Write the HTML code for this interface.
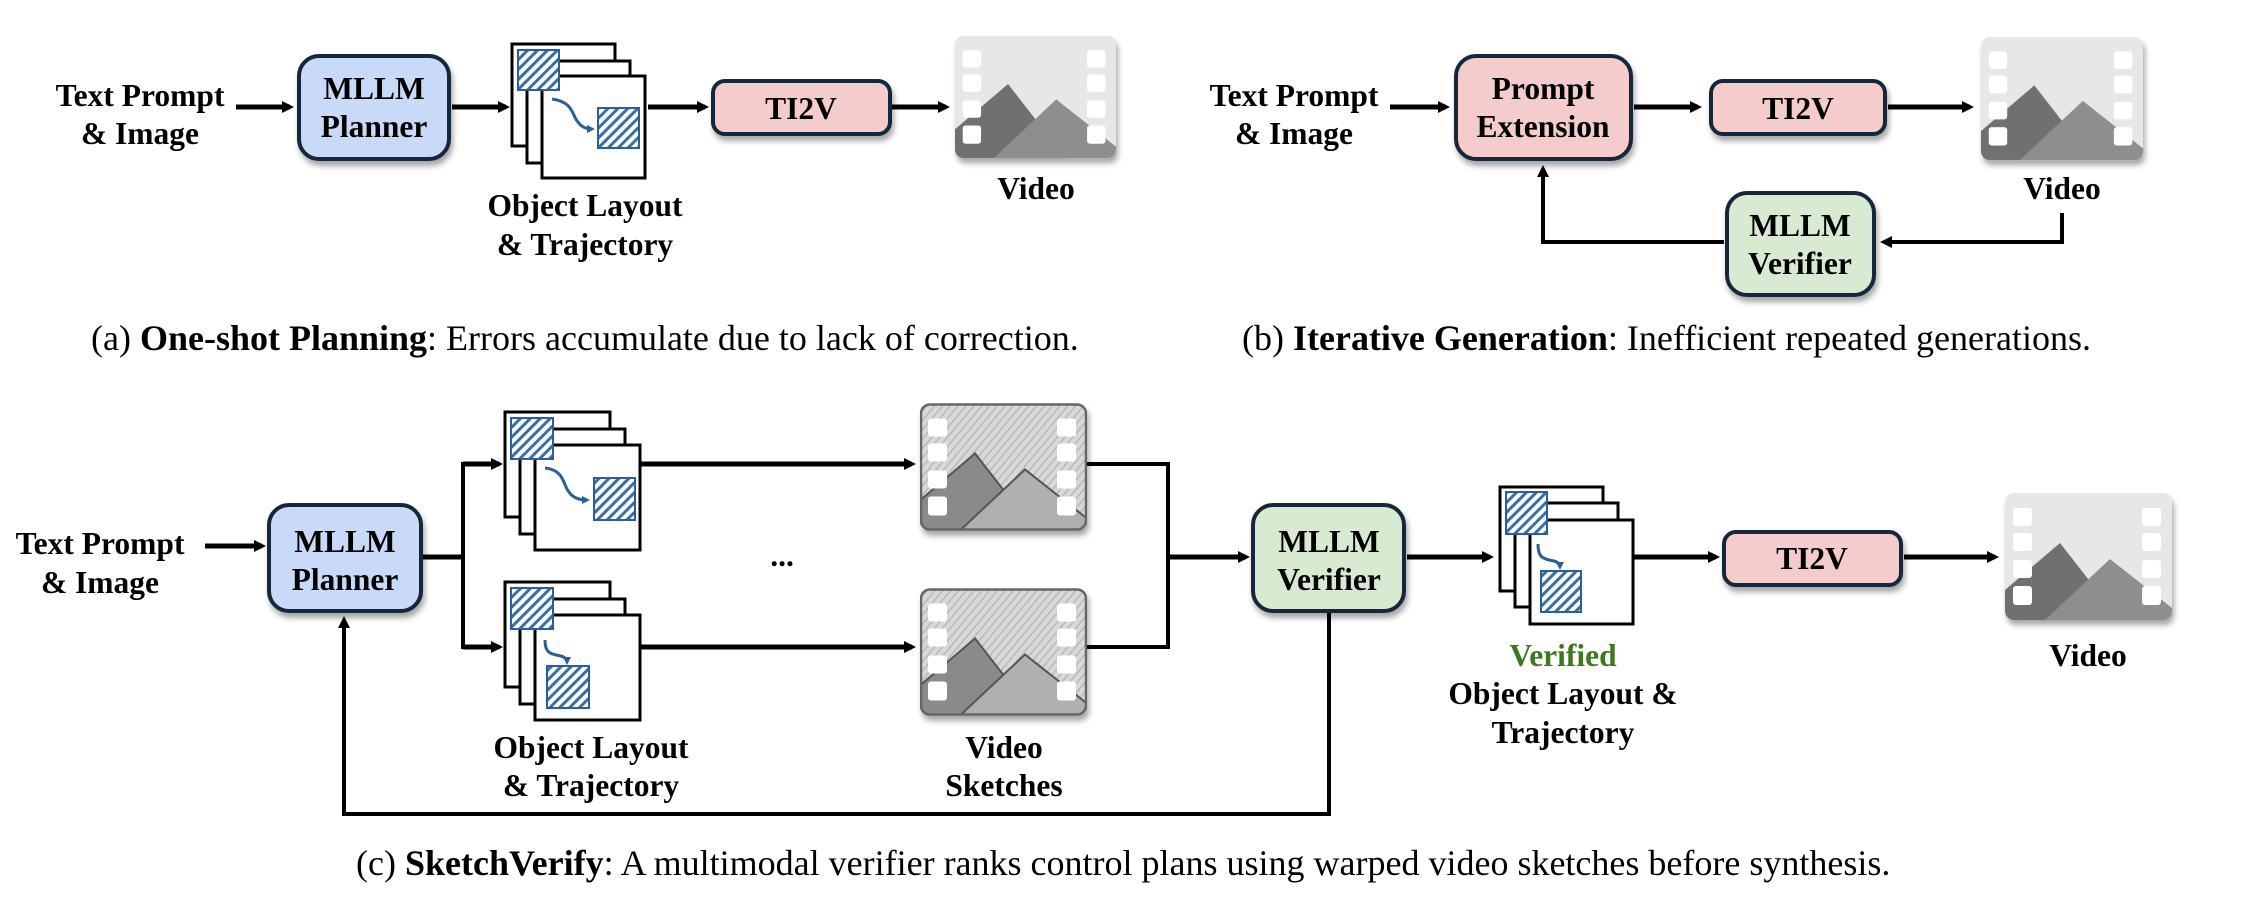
<!DOCTYPE html>
<html><head><meta charset="utf-8"><style>
html,body{margin:0;padding:0;background:#fff;}
svg{display:block;}
text{font-family:"Liberation Serif",serif;fill:#000;}
.lb{font-weight:bold;font-size:31.5px;text-anchor:middle;}
.cap{font-size:36px;}
</style></head><body>
<svg width="2241" height="898" viewBox="0 0 2241 898" xmlns="http://www.w3.org/2000/svg">
<defs>
<marker id="ah" markerWidth="12" markerHeight="12" refX="8" refY="6" orient="auto" markerUnits="userSpaceOnUse" viewBox="0 0 12 12"><path d="M0,0 L12,6 L0,12 z" fill="#000"/></marker>
<marker id="ab" markerWidth="8" markerHeight="8" refX="5" refY="4" orient="auto" markerUnits="userSpaceOnUse" viewBox="0 0 8 8"><path d="M0,0 L8,4 L0,8 z" fill="#2a5f9a"/></marker>
<pattern id="hatch" width="7" height="7" patternUnits="userSpaceOnUse" patternTransform="rotate(45)"><rect width="7" height="7" fill="#fff"/><rect width="3" height="7" fill="#3a6fa5"/></pattern>
<pattern id="sk" width="6" height="6" patternUnits="userSpaceOnUse" patternTransform="rotate(40)"><rect width="6" height="6" fill="#d8d8d8"/><rect width="1.5" height="6" fill="#b8b8b8"/></pattern>
<filter id="sh" x="-10%" y="-10%" width="130%" height="140%"><feDropShadow dx="2" dy="5" stdDeviation="3" flood-color="#000" flood-opacity="0.35"/></filter>
<clipPath id="vc"><rect x="0" y="0" width="167" height="127" rx="9"/></clipPath>
<symbol id="vid" viewBox="0 0 167 127">
<g clip-path="url(#vc)">
<rect width="167" height="127" fill="#e7e7e7"/>
<polygon points="0,97 55,50 115,127 0,127" fill="#707070"/>
<polygon points="40,127 105,66 167,115 167,127" fill="#8e8e8e"/>
<g fill="#fff"><rect x="8" y="15" width="19" height="18" rx="3"/><rect x="8" y="40" width="19" height="18" rx="3"/><rect x="8" y="67" width="19" height="18" rx="3"/><rect x="8" y="93" width="19" height="19" rx="3"/>
<rect x="137" y="15" width="19" height="18" rx="3"/><rect x="137" y="40" width="19" height="18" rx="3"/><rect x="137" y="67" width="19" height="18" rx="3"/><rect x="137" y="93" width="19" height="19" rx="3"/></g>
</g></symbol>
<symbol id="skv" viewBox="0 0 167 127">
<g clip-path="url(#vc)">
<rect width="167" height="127" fill="url(#sk)"/>
<polygon points="0,97 55,50 115,127 0,127" fill="#8a8a8a" stroke="#555" stroke-width="2"/>
<polygon points="40,127 105,66 167,115 167,127" fill="#b0b0b0" stroke="#555" stroke-width="2"/>
<g fill="#fff"><rect x="8" y="15" width="19" height="18" rx="3"/><rect x="8" y="40" width="19" height="18" rx="3"/><rect x="8" y="67" width="19" height="18" rx="3"/><rect x="8" y="93" width="19" height="19" rx="3"/>
<rect x="137" y="15" width="19" height="18" rx="3"/><rect x="137" y="40" width="19" height="18" rx="3"/><rect x="137" y="67" width="19" height="18" rx="3"/><rect x="137" y="93" width="19" height="19" rx="3"/></g>
</g><rect x="1" y="1" width="165" height="125" rx="9" fill="none" stroke="#666" stroke-width="2.5"/></symbol>
</defs>

<g stroke="#000" stroke-width="5" fill="none">
<line x1="236" y1="107" x2="290" y2="107" marker-end="url(#ah)"/>
<line x1="452" y1="107" x2="506" y2="107" marker-end="url(#ah)"/>
<line x1="648" y1="107" x2="705" y2="107" marker-end="url(#ah)"/>
<line x1="892" y1="107" x2="946" y2="107" marker-end="url(#ah)"/>
<line x1="1390" y1="107" x2="1446" y2="107" marker-end="url(#ah)"/>
<line x1="1634" y1="107" x2="1698" y2="107" marker-end="url(#ah)"/>
<line x1="1888" y1="107" x2="1970" y2="107" marker-end="url(#ah)"/>
<polyline points="2062,213 2062,242 1884,242" stroke-width="4" marker-end="url(#ah)"/>
<polyline points="1724,242 1543,242 1543,169" stroke-width="4" marker-end="url(#ah)"/>
<line x1="205" y1="546" x2="262" y2="546" marker-end="url(#ah)"/>
<line x1="422" y1="557" x2="463" y2="557"/>
<polyline points="500,464 463,464 463,647 500,647" stroke-width="4"/>
<line x1="463" y1="464" x2="499" y2="464" marker-end="url(#ah)"/>
<line x1="463" y1="647" x2="499" y2="647" marker-end="url(#ah)"/>
<line x1="640" y1="464" x2="912" y2="464" marker-end="url(#ah)"/>
<line x1="640" y1="647" x2="912" y2="647" marker-end="url(#ah)"/>
<polyline points="1086,464 1168,464 1168,647 1086,647" stroke-width="4"/>
<line x1="1168" y1="557" x2="1246" y2="557" marker-end="url(#ah)"/>
<line x1="1407" y1="557" x2="1490" y2="557" marker-end="url(#ah)"/>
<line x1="1634" y1="557" x2="1716" y2="557" marker-end="url(#ah)"/>
<line x1="1904" y1="557" x2="1995" y2="557" marker-end="url(#ah)"/>
<polyline points="1329,612 1329,814 344,814 344,620" stroke-width="4" marker-end="url(#ah)"/>
</g>

<g stroke="#17273a" stroke-width="4" filter="url(#sh)">
<rect x="299" y="56" width="150" height="103" rx="20" fill="#c9daf8"/>
<rect x="713" y="81" width="177" height="53" rx="12" fill="#f4cccc"/>
<rect x="1456" y="56" width="175" height="103" rx="20" fill="#f4cccc"/>
<rect x="1711" y="81" width="174" height="53" rx="12" fill="#f4cccc"/>
<rect x="1727" y="193" width="147" height="102" rx="20" fill="#d9ead3"/>
<rect x="269" y="505" width="152" height="106" rx="20" fill="#c9daf8"/>
<rect x="1253" y="505" width="151" height="106" rx="20" fill="#d9ead3"/>
<rect x="1724" y="532" width="177" height="53" rx="12" fill="#f4cccc"/>
</g>

<g transform="translate(512,44)">
<g stroke="#000" stroke-width="3" fill="#fff">
<rect x="0" y="0" width="103" height="102"/><rect x="15" y="17" width="103" height="102"/><rect x="30" y="32" width="103" height="102"/></g>
<rect x="6" y="6" width="41" height="40" fill="url(#hatch)" stroke="#2a5f9a" stroke-width="2"/>
<rect x="86" y="64" width="41" height="40" fill="url(#hatch)" stroke="#2a5f9a" stroke-width="2"/>
<path d="M40,55 C62,58 60,72 66,78 C70,84 76,85 80,85" stroke="#2a5f9a" stroke-width="3" fill="none" marker-end="url(#ab)"/>
</g>
<g transform="translate(505,412)">
<g stroke="#000" stroke-width="3" fill="#fff">
<rect x="0" y="0" width="105" height="105"/><rect x="15" y="17" width="105" height="105"/><rect x="30" y="33" width="105" height="105"/></g>
<rect x="6" y="6" width="42" height="41" fill="url(#hatch)" stroke="#2a5f9a" stroke-width="2"/>
<rect x="89" y="66" width="41" height="42" fill="url(#hatch)" stroke="#2a5f9a" stroke-width="2"/>
<path d="M40,56 C60,58 58,74 64,80 C68,86 74,88 82,88" stroke="#2a5f9a" stroke-width="3" fill="none" marker-end="url(#ab)"/>
</g>
<g transform="translate(505,582)">
<g stroke="#000" stroke-width="3" fill="#fff">
<rect x="0" y="0" width="105" height="105"/><rect x="15" y="17" width="105" height="105"/><rect x="30" y="33" width="105" height="105"/></g>
<rect x="6" y="6" width="42" height="41" fill="url(#hatch)" stroke="#2a5f9a" stroke-width="2"/>
<rect x="42" y="84" width="42" height="42" fill="url(#hatch)" stroke="#2a5f9a" stroke-width="2"/>
<path d="M40,58 C40,70 44,72 56,74 C60,75 62,78 62,80" stroke="#2a5f9a" stroke-width="3" fill="none" marker-end="url(#ab)"/>
</g>
<g transform="translate(1500,487)">
<g stroke="#000" stroke-width="3" fill="#fff">
<rect x="0" y="0" width="103" height="104"/><rect x="15" y="16" width="103" height="104"/><rect x="30" y="33" width="103" height="104"/></g>
<rect x="6" y="5" width="41" height="42" fill="url(#hatch)" stroke="#2a5f9a" stroke-width="2"/>
<rect x="41" y="84" width="40" height="41" fill="url(#hatch)" stroke="#2a5f9a" stroke-width="2"/>
<path d="M38,57 C38,70 42,72 54,74 C58,75 60,78 60,80" stroke="#2a5f9a" stroke-width="3" fill="none" marker-end="url(#ab)"/>
</g>

<g filter="url(#sh)">
<use href="#vid" x="955" y="34" width="161" height="126"/>
<use href="#vid" x="1981" y="35" width="162" height="127"/>
<use href="#vid" x="2005" y="493" width="167" height="127"/>
<use href="#skv" x="920" y="403" width="167" height="128"/>
<use href="#skv" x="920" y="588" width="167" height="128"/>
</g>

<text class="lb" x="140" y="106">Text Prompt</text>
<text class="lb" x="140" y="144">&amp; Image</text>
<text class="lb" x="374" y="99">MLLM</text>
<text class="lb" x="374" y="137">Planner</text>
<text class="lb" x="801" y="119">TI2V</text>
<text class="lb" x="585" y="216">Object Layout</text>
<text class="lb" x="585" y="255">&amp; Trajectory</text>
<text class="lb" x="1036" y="199">Video</text>
<text class="cap" x="91" y="350">(a) <tspan font-weight="bold">One-shot Planning</tspan>: Errors accumulate due to lack of correction.</text>

<text class="lb" x="1294" y="106">Text Prompt</text>
<text class="lb" x="1294" y="144">&amp; Image</text>
<text class="lb" x="1543" y="99">Prompt</text>
<text class="lb" x="1543" y="137">Extension</text>
<text class="lb" x="1798" y="119">TI2V</text>
<text class="lb" x="2062" y="199">Video</text>
<text class="lb" x="1800" y="236">MLLM</text>
<text class="lb" x="1800" y="274">Verifier</text>
<text class="cap" x="1242" y="350">(b) <tspan font-weight="bold">Iterative Generation</tspan>: Inefficient repeated generations.</text>

<text class="lb" x="100" y="554">Text Prompt</text>
<text class="lb" x="100" y="593">&amp; Image</text>
<text class="lb" x="345" y="552">MLLM</text>
<text class="lb" x="345" y="590">Planner</text>
<text class="lb" x="782" y="566">...</text>
<text class="lb" x="591" y="758">Object Layout</text>
<text class="lb" x="591" y="796">&amp; Trajectory</text>
<text class="lb" x="1004" y="758">Video</text>
<text class="lb" x="1004" y="796">Sketches</text>
<text class="lb" x="1329" y="552">MLLM</text>
<text class="lb" x="1329" y="590">Verifier</text>
<text class="lb" x="1563" y="666" style="fill:#3d7a1f">Verified</text>
<text class="lb" x="1563" y="704">Object Layout &amp;</text>
<text class="lb" x="1563" y="743">Trajectory</text>
<text class="lb" x="1812" y="569">TI2V</text>
<text class="lb" x="2088" y="666">Video</text>
<text class="cap" x="356" y="875">(c) <tspan font-weight="bold">SketchVerify</tspan>: A multimodal verifier ranks control plans using warped video sketches before synthesis.</text>
</svg>
</body></html>
